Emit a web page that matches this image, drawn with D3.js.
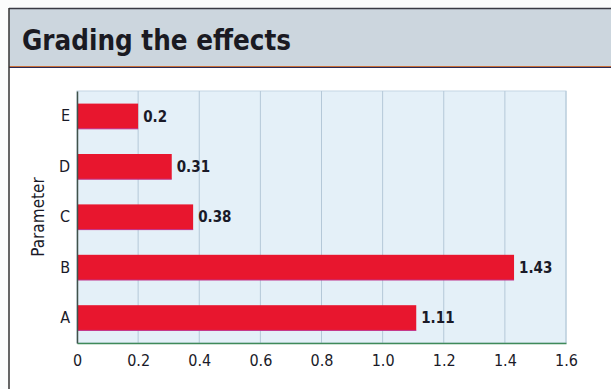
<!DOCTYPE html>
<html>
<head>
<meta charset="utf-8">
<script src="https://cdn.jsdelivr.net/npm/d3@7"></script>
<style>
  body { margin: 0; background: #fbfcfc; }
  svg { display: block; font-family: 'DejaVu Sans Condensed', 'DejaVu Sans', sans-serif; font-stretch: condensed; }
</style>
</head>
<body>
<div id="chart"></div>
<script>
const categories = ['A', 'B', 'C', 'D', 'E']
const values = [1.11, 1.43, 0.38, 0.31, 0.2]
const valueLabels = ['1.11', '1.43', '0.38', '0.31', '0.2']
const xTicks = [0, 0.2, 0.4, 0.6, 0.8, 1.0, 1.2, 1.4, 1.6]
const xTickLabels = ['0', '0.2', '0.4', '0.6', '0.8', '1.0', '1.2', '1.4', '1.6']

const width = 611
const height = 389
const margin = {top: 91, right: 45, bottom: 46, left: 77}

const svg = d3.select('#chart')
  .append('svg')
  .attr('width', width)
  .attr('height', height)

// title band
svg.append('rect')
  .attr('x', 9).attr('y', 8)
  .attr('width', width - 9).attr('height', 59)
  .attr('fill', '#ccd6de')
svg.append('line')
  .attr('x1', 9).attr('x2', width).attr('y1', 8.5).attr('y2', 8.5)
  .attr('stroke', '#3a3a44').attr('stroke-width', 1.5)
svg.append('line')
  .attr('x1', 9).attr('x2', width).attr('y1', 66.5).attr('y2', 66.5)
  .attr('stroke', '#c8703a').attr('stroke-width', 1)
svg.append('line')
  .attr('x1', 9).attr('x2', width).attr('y1', 67.5).attr('y2', 67.5)
  .attr('stroke', '#2a2a55').attr('stroke-width', 1)
svg.append('rect')
  .attr('x', 9).attr('y', 68)
  .attr('width', width - 9).attr('height', height - 68)
  .attr('fill', '#ffffff')
svg.append('line')
  .attr('x1', 9).attr('x2', 9).attr('y1', 8).attr('y2', height)
  .attr('stroke', '#333').attr('stroke-width', 1.5)

svg.append('text')
  .attr('x', 22).attr('y', 50)
  .attr('font-size', 27.5)
  .attr('font-weight', 700)
  .attr('fill', '#1a1a22')
  .text('Grading the effects')

const innerW = width - margin.left - margin.right
const innerH = height - margin.top - margin.bottom

const x = d3.scaleLinear().domain([0, 1.6]).range([0, innerW])
const y = d3.scaleBand().domain(categories.slice().reverse()).range([0, innerH]).paddingInner(0.5).paddingOuter(0.25)

const g = svg.append('g')
  .attr('transform', `translate(${margin.left},${margin.top})`)

g.append('rect')
  .attr('width', innerW).attr('height', innerH)
  .attr('fill', '#e4f0f8')
  .attr('stroke', '#c4d6e4')

g.selectAll('.grid')
  .data(xTicks.slice(1))
  .join('line')
  .attr('class', 'grid')
  .attr('x1', d => x(d)).attr('x2', d => x(d))
  .attr('y1', 0).attr('y2', innerH)
  .attr('stroke', '#b4c8d8')
  .attr('stroke-width', 1)

const data = categories.map((c, i) => ({cat: c, value: values[i], label: valueLabels[i]}))

g.selectAll('.bar')
  .data(data)
  .join('rect')
  .attr('class', 'bar')
  .attr('x', 0)
  .attr('y', d => y(d.cat))
  .attr('width', d => x(d.value))
  .attr('height', y.bandwidth())
  .attr('fill', '#e8162e')

g.selectAll('.bar-edge')
  .data(data)
  .join('line')
  .attr('class', 'bar-edge')
  .attr('x1', 0).attr('x2', d => x(d.value))
  .attr('y1', d => y(d.cat) + y.bandwidth()).attr('y2', d => y(d.cat) + y.bandwidth())
  .attr('stroke', '#c0308a').attr('stroke-width', 1)

g.selectAll('.val')
  .data(data)
  .join('text')
  .attr('class', 'val')
  .attr('x', d => x(d.value) + 5)
  .attr('y', d => y(d.cat) + y.bandwidth() / 2)
  .attr('dy', '0.36em')
  .attr('font-size', 15)
  .attr('font-weight', 700)
  .attr('fill', '#1a1a28')
  .text(d => d.label)

// axes
const xAxis = g.append('g')
  .attr('transform', `translate(0,${innerH})`)
  .call(d3.axisBottom(x).tickValues(xTicks).tickFormat((d, i) => xTickLabels[i]).tickSize(0).tickPadding(12))
xAxis.select('.domain').attr('stroke', '#3f8a5a').attr('stroke-width', 1.5)
xAxis.selectAll('text').attr('font-size', 16).attr('font-family', 'DejaVu Sans Condensed').attr('fill', '#1a1a28')

const yAxis = g.append('g')
  .call(d3.axisLeft(y).tickSize(0).tickPadding(7))
yAxis.select('.domain').attr('stroke', '#40524a').attr('stroke-width', 1.5)
yAxis.selectAll('text').attr('font-size', 16).attr('font-family', 'DejaVu Sans Condensed').attr('fill', '#1a1a28')

svg.append('text')
  .attr('transform', `translate(44,${margin.top + innerH / 2}) rotate(-90)`)
  .attr('text-anchor', 'middle')
  .attr('font-size', 17)
  .attr('fill', '#1a1a28')
  .text('Parameter')
</script>
</body>
</html>
